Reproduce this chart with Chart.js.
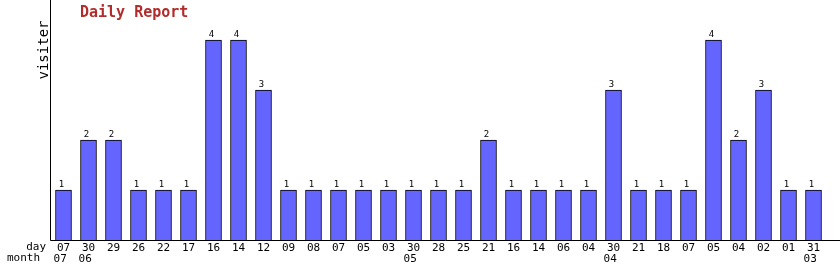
<!DOCTYPE html>
<html>
<head>
<meta charset="utf-8">
<script src="https://cdn.jsdelivr.net/npm/chart.js@4"></script>
<style>
  html, body { margin: 0; padding: 0; background: #fff; }
  #wrap { width: 840px; height: 270px; position: relative; }
</style>
</head>
<body>
<div id="wrap"><canvas id="daily-chart"></canvas></div>
<script>
const days = ['07', '30', '29', '26', '22', '17', '16', '14', '12', '09', '08', '07', '05', '03', '30',
    '28', '25', '21', '16', '14', '06', '04', '30', '21', '18', '07', '05', '04', '02', '01', '31'];
const months = ['07', '06', '', '', '', '', '', '', '', '', '', '', '', '', '05',
    '', '', '', '', '', '', '', '04', '', '', '', '', '', '', '', '03'];
const visits = [1, 2, 2, 1, 1, 1, 4, 4, 3, 1, 1, 1, 1, 1, 1,
    1, 1, 2, 1, 1, 1, 1, 3, 1, 1, 1, 4, 2, 3, 1, 1];

const MONO = '"DejaVu Sans Mono", monospace';

// two-line tick labels: day on top, month below (month nudged a bit left)
const labels = days.map((d, i) => months[i] ? [d, months[i] + ' '] : [d, '']);

// Axis lines, captions and value labels
const decorations = {
    id: 'decorations',
    afterDraw(chart) {
        const ctx = chart.ctx;
        const area = chart.chartArea;
        ctx.save();

        // axes
        ctx.strokeStyle = '#000';
        ctx.lineWidth = 1;
        ctx.beginPath();
        ctx.moveTo(50.5, 0);
        ctx.lineTo(50.5, area.bottom + 0.5);
        ctx.lineTo(chart.width, area.bottom + 0.5);
        ctx.stroke();

        // title
        ctx.fillStyle = '#b22c2c';
        ctx.font = 'bold 15px ' + MONO;
        ctx.textAlign = 'left';
        ctx.textBaseline = 'middle';
        ctx.fillText('Daily Report', 80, 13);

        // y caption
        ctx.fillStyle = '#000';
        ctx.font = '14px ' + MONO;
        ctx.translate(44, 50);
        ctx.rotate(-Math.PI / 2);
        ctx.textAlign = 'center';
        ctx.fillText('visiter', 0, 0);
        ctx.setTransform(1, 0, 0, 1, 0, 0);

        // x captions
        ctx.font = '11px ' + MONO;
        ctx.textAlign = 'right';
        ctx.fillText('day', 46, 247);
        ctx.fillText('month', 40, 258);

        // value labels above each bar
        ctx.font = '9px ' + MONO;
        ctx.textAlign = 'center';
        ctx.textBaseline = 'bottom';
        chart.getDatasetMeta(0).data.forEach((bar, i) => {
            ctx.fillText(visits[i], bar.x - 2, bar.y - 1);
        });
        ctx.restore();
    }
};

new Chart(document.getElementById('daily-chart'), {
    type: 'bar',
    data: {
        labels: labels,
        datasets: [{
            data: visits,
            backgroundColor: '#6464ff',
            borderColor: '#000',
            borderWidth: 1,
            barThickness: 16
        }]
    },
    options: {
        responsive: true,
        maintainAspectRatio: false,
        animation: false,
        layout: { padding: { left: 51, right: 14, top: 0, bottom: 0 } },
        plugins: {
            legend: { display: false },
            tooltip: { enabled: false }
        },
        scales: {
            x: {
                grid: { display: false },
                border: { display: false },
                ticks: {
                    color: '#000',
                    font: { family: MONO, size: 11, lineHeight: 1.0 },
                    padding: -5,
                    maxRotation: 0,
                    autoSkip: false
                },
                afterFit(scale) { scale.height = 30; }
            },
            y: {
                display: false,
                min: 0,
                max: 4.8
            }
        }
    },
    plugins: [decorations]
});
</script>
</body>
</html>
